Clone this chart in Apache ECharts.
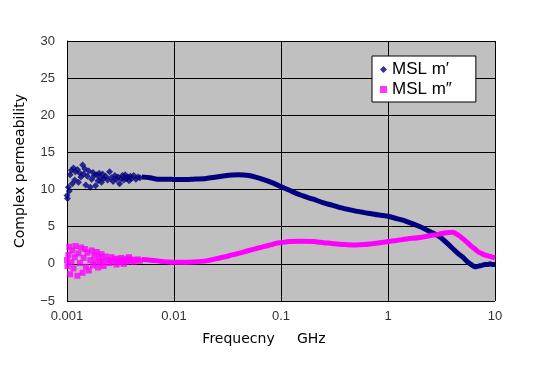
<!DOCTYPE html>
<html><head><meta charset="utf-8">
<script src="https://cdn.jsdelivr.net/npm/echarts@6/dist/echarts.min.js"></script>
<style>html,body{margin:0;padding:0;background:#fff}#c{width:554px;height:385px}</style>
</head><body><div id="c"></div>
<script>
// Noisy low-frequency region (GHz)
const lowFreq = [0.00100,0.00101,0.00103,0.00105,0.00107,0.00110,0.00112,0.00115,0.00118,0.00120,0.00125,0.00128,0.00132,0.00135,0.00140,0.00143,0.00147,0.00150,0.00155,0.00160,0.00165,0.00170,0.00175,0.00180,0.00185,0.00190,0.00195,0.0020,0.00205,0.0021,0.00215,0.0022,0.0023,0.0024,0.0025,0.0026,0.0027,0.0028,0.0029,0.0030,0.0031,0.0032,0.0033,0.0034,0.0035,0.0036,0.0037,0.0038,0.0039,0.0040,0.0042,0.0044,0.0046,0.0048];
const lowMp  = [9.2,8.8,10.3,9.8,12.0,12.6,10.8,12.9,11.3,12.4,12.7,11.0,12.2,11.7,13.3,12.1,12.8,10.6,11.8,12.5,10.3,11.4,12.3,11.9,10.5,12.0,11.2,12.2,11.6,11.0,12.1,11.5,11.8,11.3,12.4,11.6,11.1,11.9,11.4,11.7,10.8,11.5,11.9,11.3,12.0,11.5,11.7,11.2,11.8,11.5,11.9,11.4,11.7,11.6];
const lowMpp = [0.5,-0.3,1.2,2.3,-1.4,0.2,1.8,-0.6,0.9,2.4,-1.6,1.4,0.1,2.2,-1.2,0.8,2.0,-0.4,1.5,-0.9,0.5,1.8,-0.2,1.1,0.3,1.6,-0.5,0.9,0.2,1.3,0.4,-0.3,1.0,0.5,0.1,0.9,0.3,0.7,-0.1,0.6,0.2,0.8,0.4,0.0,0.7,0.3,0.5,0.9,0.4,0.6,0.3,0.5,0.6,0.4];
// Smooth region (GHz)
const hiFreq = [0.005,0.006,0.007,0.008,0.009,0.01,0.012,0.015,0.02,0.025,0.03,0.035,0.04,0.05,0.06,0.07,0.08,0.09,0.1,0.12,0.15,0.2,0.25,0.3,0.35,0.4,0.5,0.6,0.7,0.8,0.9,1,1.2,1.5,2,2.5,3,3.5,4,4.5,5,5.5,6,6.5,7,7.5,8,8.5,9,9.5,10];
const hiMp  = [11.7,11.6,11.4,11.4,11.4,11.35,11.35,11.4,11.5,11.7,11.85,11.95,12.0,11.9,11.6,11.3,11.0,10.7,10.4,9.9,9.3,8.7,8.2,7.9,7.6,7.4,7.1,6.9,6.75,6.6,6.5,6.4,6.1,5.7,5.0,4.3,3.7,2.9,2.1,1.4,0.9,0.3,-0.1,-0.4,-0.3,-0.2,-0.1,-0.1,0,-0.1,-0.1];
const hiMpp = [0.6,0.5,0.4,0.3,0.25,0.2,0.2,0.25,0.4,0.7,0.95,1.2,1.4,1.8,2.1,2.35,2.55,2.75,2.85,3.0,3.05,3.0,2.85,2.75,2.65,2.6,2.55,2.6,2.7,2.8,2.9,3.0,3.15,3.35,3.55,3.8,4.0,4.2,4.25,3.9,3.4,2.9,2.4,2.0,1.6,1.4,1.2,1.1,1.0,0.9,0.8];
const xTicks = [0.001,0.01,0.1,1,10];
const yTicks = [-5,0,5,10,15,20,25,30];
const seriesNames = ['MSL m\u2032','MSL m\u2033'];

const NAVY = '#000080', MAG = '#ff00ff';
const FONT = 'DejaVu Sans, Liberation Sans, Arial';
const zip = (a,b) => a.map((v,i)=>[v,b[i]]);
const chart = echarts.init(document.getElementById('c'), null, {renderer:'canvas'});
chart.setOption({
  animation:false,
  grid:{left:67,right:59,top:41,bottom:84,show:true,backgroundColor:'#c0c0c0',borderWidth:0},
  legend:{
    orient:'vertical', left:372, top:56,
    backgroundColor:'#fff', borderColor:'#000', borderWidth:1,
    padding:[5,24,4,8], itemGap:3, itemWidth:7, itemHeight:7,
    textStyle:{fontFamily:'Liberation Sans, Arial',fontSize:17,color:'#000'},
    data:[{name:seriesNames[0],icon:'diamond'},{name:seriesNames[1],icon:'rect'}]
  },
  xAxis:{
    type:'log', logBase:10, min:xTicks[0], max:xTicks[xTicks.length-1],
    name:'Frequecny     GHz', nameLocation:'middle', nameGap:31,
    nameTextStyle:{fontFamily:FONT,fontSize:14,color:'#000',padding:[0,34,0,0]},
    axisLine:{show:true,lineStyle:{color:'#000',width:1}},
    axisTick:{show:false}, minorTick:{show:false},
    splitLine:{show:true,lineStyle:{color:'#000',width:1}},
    axisLabel:{fontFamily:'Liberation Sans, Arial',fontSize:13,color:'#333',margin:9,
      formatter:v=>{const t=xTicks.find(x=>Math.abs(x-v)/x<1e-6);return t===undefined?'':String(t);}}
  },
  yAxis:{
    type:'value', min:yTicks[0], max:yTicks[yTicks.length-1], interval:5,
    name:'Complex permeability', nameLocation:'middle', nameGap:40,
    nameTextStyle:{fontFamily:FONT,fontSize:14,color:'#000'},
    axisLine:{show:true,lineStyle:{color:'#000',width:1}},
    axisTick:{show:false},
    splitLine:{show:true,lineStyle:{color:'#000',width:1}},
    axisLabel:{fontFamily:'Liberation Sans, Arial',fontSize:13,color:'#333',margin:12,
      formatter:v=>v<0?'\u2212'+Math.abs(v):String(v)}
  },
  series:[
    {name:seriesNames[0],type:'scatter',data:zip(lowFreq,lowMp),symbol:'diamond',symbolSize:7,itemStyle:{color:NAVY}},
    {name:seriesNames[0],type:'line',data:zip(hiFreq,hiMp),showSymbol:false,smooth:0.3,lineStyle:{color:NAVY,width:5},itemStyle:{color:NAVY}},
    {name:seriesNames[1],type:'scatter',data:zip(lowFreq,lowMpp),symbol:'rect',symbolSize:6,itemStyle:{color:MAG}},
    {name:seriesNames[1],type:'line',data:zip(hiFreq,hiMpp),showSymbol:false,smooth:0.3,lineStyle:{color:MAG,width:5},itemStyle:{color:MAG}}
  ]
});
</script></body></html>
